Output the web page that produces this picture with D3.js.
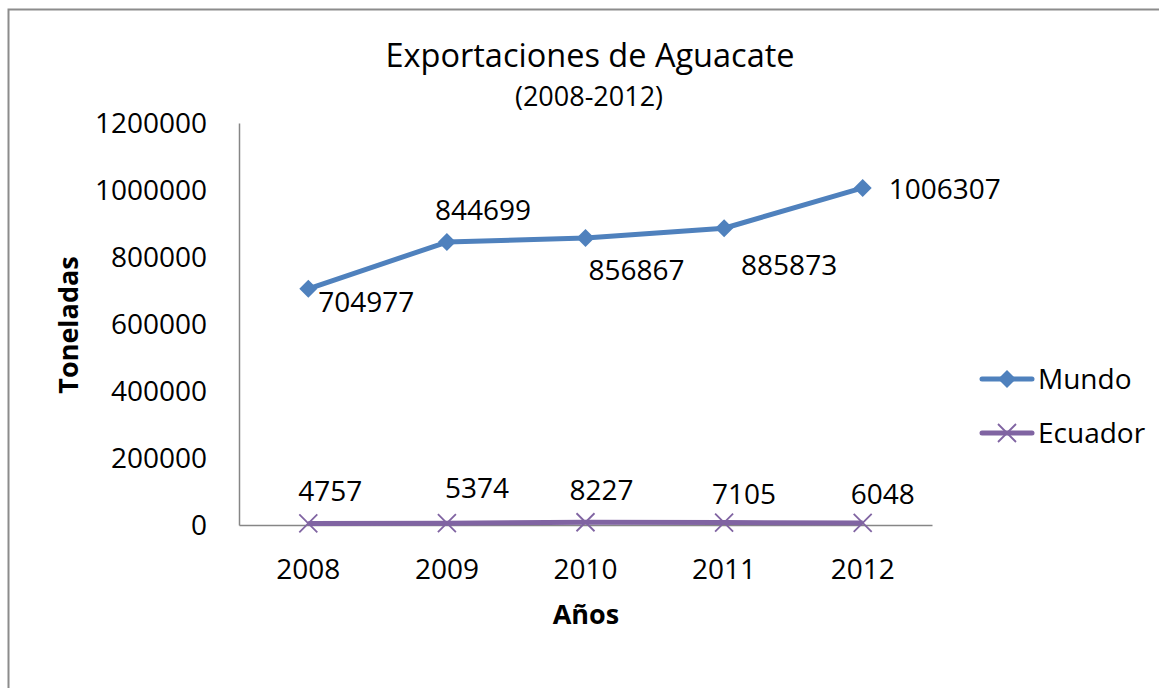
<!DOCTYPE html>
<html>
<head>
<meta charset="utf-8">
<script src="https://cdn.jsdelivr.net/npm/d3@7"></script>
<style>
  body { margin: 0; background: #fff; }
  text { font-family: "Open Sans", sans-serif; fill: #000; }
</style>
</head>
<body>
<svg id="chart" width="1159" height="688"></svg>
<script>
// data
const years = ["2008", "2009", "2010", "2011", "2012"];
const mundo = [704977, 844699, 856867, 885873, 1006307];
const ecuador = [4757, 5374, 8227, 7105, 6048];
const yTicks = [0, 200000, 400000, 600000, 800000, 1000000, 1200000];

const svg = d3.select("#chart");

// outer frame (runs off the right/bottom edges like the screenshot)
svg.append("rect").attr("x", 8.5).attr("y", 9.5).attr("width", 1200).attr("height", 700)
  .attr("fill", "none").attr("stroke", "#8c8c8c").attr("stroke-width", 2);

const plotL = 239, plotR = 932, plotT = 123, plotB = 525;

const x = d3.scaleBand().domain(years).range([plotL, plotR]);
const y = d3.scaleLinear().domain([0, 1200000]).range([plotB, plotT]);
const cx = d => x(d) + x.bandwidth() / 2;

// title
svg.append("text").attr("x", 590).attr("y", 67).attr("text-anchor", "middle")
  .style("font-size", "32.5px").text("Exportaciones de Aguacate");
svg.append("text").attr("x", 589).attr("y", 106).attr("text-anchor", "middle")
  .style("font-size", "27px").text("(2008-2012)");

// axes
const yAxis = svg.append("g").attr("transform", `translate(${plotL},0)`)
  .call(d3.axisLeft(y).tickValues(yTicks).tickSize(0).tickPadding(32).tickFormat(d3.format("d")));
yAxis.select(".domain").attr("stroke", "#868686").attr("stroke-width", 1.5);
yAxis.selectAll("text").style("font-size", "28px").attr("dy", "0.35em");

const xAxis = svg.append("g").attr("transform", `translate(0,${plotB})`)
  .call(d3.axisBottom(x).tickSize(0).tickPadding(34));
xAxis.select(".domain").attr("stroke", "#868686").attr("stroke-width", 1.5);
xAxis.selectAll("text").style("font-size", "28px");

// axis titles
svg.append("text").attr("transform", "translate(78,325) rotate(-90)").attr("text-anchor", "middle")
  .style("font-size", "27px").style("font-weight", "bold").text("Toneladas");
svg.append("text").attr("x", 586).attr("y", 624).attr("text-anchor", "middle")
  .style("font-size", "27px").style("font-weight", "bold").text("Años");

const blue = "#4f81bd", purple = "#8064a2";
const line = d3.line().x((d, i) => cx(years[i])).y(d => y(d));

// Mundo
svg.append("path").attr("d", line(mundo)).attr("fill", "none")
  .attr("stroke", blue).attr("stroke-width", 5).attr("stroke-linejoin", "round");
svg.selectAll(".dia").data(mundo).join("path").attr("class", "dia")
  .attr("transform", (d, i) => `translate(${cx(years[i])},${y(d)})`)
  .attr("d", "M0,-9L9,0L0,9L-9,0Z").attr("fill", blue);

// Mundo labels: dx, dy offsets
const mundoLabelPos = [[10, 13], [-12, -32], [3, 32], [17, 37], [26, 1]];
svg.selectAll(".mlab").data(mundo).join("text").attr("class", "mlab")
  .attr("x", (d, i) => cx(years[i]) + mundoLabelPos[i][0])
  .attr("y", (d, i) => y(d) + mundoLabelPos[i][1])
  .attr("dy", "0.35em").style("font-size", "28px").text(d => d);

// Ecuador
svg.append("path").attr("d", line(ecuador)).attr("fill", "none")
  .attr("stroke", purple).attr("stroke-width", 5);
svg.selectAll(".cross").data(ecuador).join("path").attr("class", "cross")
  .attr("transform", (d, i) => `translate(${cx(years[i])},${y(d)})`)
  .attr("d", "M-9,-9L9,9M-9,9L9,-9").attr("stroke", purple).attr("stroke-width", 1.8).attr("fill", "none");

const ecLabelPos = [[-10, -32], [-2, -35], [-16, -32], [-12, -28], [-12, -29]];
svg.selectAll(".elab").data(ecuador).join("text").attr("class", "elab")
  .attr("x", (d, i) => cx(years[i]) + ecLabelPos[i][0])
  .attr("y", (d, i) => y(d) + ecLabelPos[i][1])
  .attr("dy", "0.35em").style("font-size", "28px").text(d => d);

// legend
const legend = [
  { name: "Mundo", color: blue, y: 379, marker: "M0,-9L9,0L0,9L-9,0Z", fill: true },
  { name: "Ecuador", color: purple, y: 433, marker: "M-9,-9L9,9M-9,9L9,-9", fill: false }
];
const lg = svg.selectAll(".lg").data(legend).join("g").attr("class", "lg")
  .attr("transform", d => `translate(0,${d.y})`);
lg.append("line").attr("x1", 982).attr("x2", 1032).attr("stroke", d => d.color)
  .attr("stroke-width", 5).attr("stroke-linecap", "round");
lg.append("path").attr("transform", "translate(1007,0)").attr("d", d => d.marker)
  .attr("fill", d => d.fill ? d.color : "none").attr("stroke", d => d.fill ? "none" : d.color)
  .attr("stroke-width", 1.8);
lg.append("text").attr("x", 1038).attr("dy", "0.35em").style("font-size", "28px").text(d => d.name);
</script>
</body>
</html>
